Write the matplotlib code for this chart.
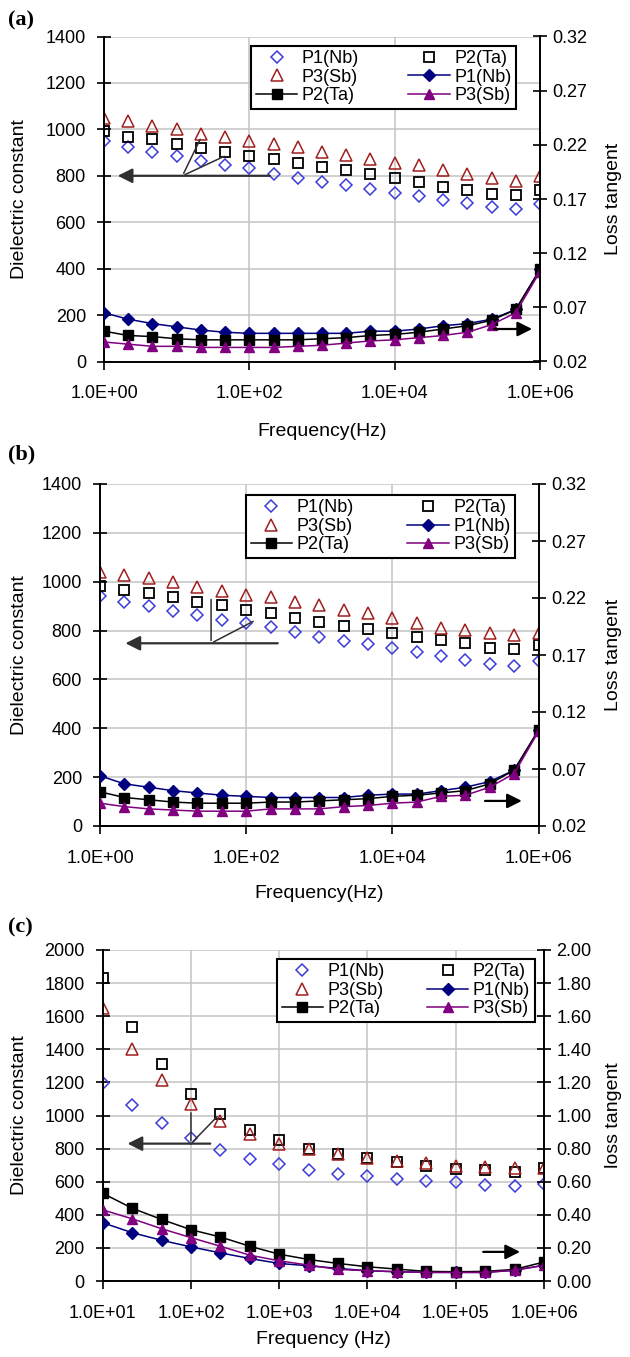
import numpy as np
import matplotlib
matplotlib.use('Agg')
import matplotlib.pyplot as plt
from matplotlib.ticker import FixedLocator, FuncFormatter, NullLocator

plt.rcParams['font.family'] = ['Liberation Sans', 'DejaVu Sans']

# ---- data -------------------------------------------------------------
freq_ab = 10 ** (np.arange(19) / 3.0)          # 1 Hz .. 1 MHz
freq_c = 10 ** (1 + np.arange(16) / 3.0)       # 10 Hz .. 1 MHz

eps_a_nb = [951, 925, 904, 885, 865, 848, 832, 808, 792, 775, 760, 745, 728, 711, 696, 681, 665, 658, 678]
eps_a_ta = [992, 968, 957, 935, 918, 901, 887, 871, 855, 839, 824, 809, 792, 772, 752, 738, 722, 718, 739]
eps_a_sb = [1047, 1035, 1015, 1001, 982, 968, 951, 937, 922, 902, 888, 871, 855, 847, 825, 808, 789, 778, 801]
tan_a_nb = [0.065, 0.059, 0.055, 0.052, 0.049, 0.047, 0.046, 0.046, 0.046, 0.046, 0.046, 0.048, 0.048, 0.050, 0.053, 0.055, 0.059, 0.068, 0.105]
tan_a_ta = [0.048, 0.044, 0.043, 0.041, 0.040, 0.040, 0.040, 0.040, 0.040, 0.041, 0.042, 0.044, 0.045, 0.047, 0.050, 0.053, 0.058, 0.068, 0.105]
tan_a_sb = [0.038, 0.036, 0.034, 0.034, 0.033, 0.033, 0.033, 0.033, 0.034, 0.035, 0.037, 0.039, 0.040, 0.042, 0.044, 0.047, 0.054, 0.065, 0.103]

eps_b_nb = [943, 919, 902, 882, 864, 843, 833, 813, 793, 775, 759, 745, 730, 712, 696, 679, 663, 656, 677]
eps_b_ta = [984, 966, 953, 936, 919, 905, 884, 871, 853, 837, 820, 805, 791, 775, 761, 748, 727, 723, 741]
eps_b_sb = [1039, 1028, 1014, 997, 980, 964, 946, 939, 919, 904, 884, 873, 853, 833, 809, 802, 789, 782, 792]
tan_b_nb = [0.064, 0.057, 0.054, 0.051, 0.049, 0.047, 0.046, 0.045, 0.045, 0.045, 0.045, 0.047, 0.048, 0.048, 0.051, 0.054, 0.059, 0.069, 0.104]
tan_b_ta = [0.050, 0.045, 0.043, 0.041, 0.040, 0.040, 0.040, 0.041, 0.041, 0.042, 0.043, 0.044, 0.046, 0.047, 0.049, 0.051, 0.057, 0.069, 0.104]
tan_b_sb = [0.040, 0.037, 0.035, 0.034, 0.033, 0.033, 0.033, 0.035, 0.035, 0.035, 0.037, 0.038, 0.040, 0.041, 0.046, 0.047, 0.054, 0.066, 0.103]

eps_c_nb = [1198, 1065, 954, 865, 794, 740, 706, 672, 646, 636, 616, 606, 596, 578, 575, 585]
eps_c_ta = [1828, 1535, 1313, 1131, 1010, 912, 852, 800, 766, 742, 722, 696, 676, 670, 660, 683]
eps_c_sb = [1650, 1404, 1212, 1067, 964, 886, 830, 796, 766, 746, 726, 710, 696, 690, 685, 685]
tan_c_nb = [0.352, 0.292, 0.246, 0.206, 0.170, 0.136, 0.106, 0.092, 0.076, 0.062, 0.056, 0.052, 0.052, 0.052, 0.065, 0.095]
tan_c_ta = [0.530, 0.440, 0.372, 0.310, 0.266, 0.210, 0.162, 0.130, 0.106, 0.086, 0.072, 0.058, 0.056, 0.058, 0.070, 0.115]
tan_c_sb = [0.430, 0.376, 0.316, 0.262, 0.210, 0.156, 0.122, 0.096, 0.070, 0.062, 0.056, 0.052, 0.052, 0.052, 0.065, 0.095]

labels = ['P1(Nb)', 'P3(Sb)', 'P2(Ta)', 'P2(Ta)', 'P1(Nb)', 'P3(Sb)']

# arrow annotations: (tail, head) in data coords, plus pointer lines
arrow_a_left = ((10 ** 2.32, 800), (10 ** 0.15, 800))
arrow_a_right = ((10 ** 5.33, 0.050), (10 ** 5.93, 0.050))
pointer_a = [((10 ** 1.08, 800), (10 ** 1.34, 968)), ((10 ** 1.08, 800), (10 ** 1.69, 889))]
arrow_b_left = ((10 ** 2.47, 748), (10 ** 0.31, 748))
arrow_b_right = ((10 ** 5.23, 0.042), (10 ** 5.81, 0.042))
pointer_b = [((10 ** 1.52, 748), (10 ** 1.52, 939)), ((10 ** 1.52, 748), (10 ** 2.13, 843))]
arrow_c_left = ((10 ** 2.25, 830), (10 ** 1.25, 830))
arrow_c_right = ((10 ** 5.28, 0.176), (10 ** 5.76, 0.176))
pointer_c = [((10 ** 2.0, 830), (10 ** 2.0, 1033)), ((10 ** 2.0, 830), (10 ** 2.32, 1006))]

C_NB_OPEN = '#3c3cd8'
C_SB_OPEN = '#a01e1e'
C_NB = '#000080'
C_SB = '#800080'

W, H = 630, 1357
fig = plt.figure(figsize=(W / 100, H / 100), dpi=100)


def add_ax(l, r, t, b):
    return fig.add_axes([l / W, 1 - b / H, (r - l) / W, (b - t) / H])


def panel(box, freq, eps, tan, ylim, yticks, tlim, tticks, tfmt, xticks,
          arrows, pointers, leg_anchor, xlabel, rlabel, tag, tagpos):
    l, r, t, b = box
    ax = add_ax(l, r, t, b)
    ax.set_xscale('log')
    ax.set_xlim(freq[0], freq[-1])
    ax.set_ylim(*ylim)
    ax.yaxis.set_major_locator(FixedLocator(yticks))
    ax.xaxis.set_major_locator(FixedLocator(xticks))
    ax.xaxis.set_minor_locator(NullLocator())
    ax.xaxis.set_major_formatter(FuncFormatter(lambda v, p: f'{v:.1E}'))
    ax.grid(True, color='#c4c4c4', lw=1.1)
    ax.set_axisbelow(True)
    for s in ['top', 'right']:
        ax.spines[s].set_visible(False)
    for s in ['left', 'bottom']:
        ax.spines[s].set_linewidth(1.4)
    ax.tick_params(axis='both', labelsize=13, width=1.2)
    ax.tick_params(axis='x', pad=11, length=6, direction='out')
    ax.tick_params(axis='y', pad=8, length=10, direction='inout')

    nb_o, = ax.plot(freq, eps[0], ls='none', marker='D', ms=6, mfc='none', mec=C_NB_OPEN, mew=1.1)
    ta_o, = ax.plot(freq, eps[1], ls='none', marker='s', ms=7, mfc='none', mec='black', mew=1.3)
    sb_o, = ax.plot(freq, eps[2], ls='none', marker='^', ms=8, mfc='none', mec=C_SB_OPEN, mew=1.1)

    ax2 = ax.twinx()
    ax2.set_ylim(*tlim)
    ax2.yaxis.set_major_locator(FixedLocator(tticks))
    ax2.yaxis.set_major_formatter(FuncFormatter(lambda v, p: tfmt.format(v)))
    for s in ['top', 'left', 'bottom']:
        ax2.spines[s].set_visible(False)
    ax2.spines['right'].set_linewidth(1.4)
    ax2.tick_params(axis='y', labelsize=13, width=1.2, length=10, direction='inout', pad=4)

    nb_l, = ax2.plot(freq, tan[0], color=C_NB, lw=1.1, marker='D', ms=6.5, mfc=C_NB, mec=C_NB)
    ta_l, = ax2.plot(freq, tan[1], color='black', lw=1.1, marker='s', ms=7, mfc='black', mec='black')
    sb_l, = ax2.plot(freq, tan[2], color=C_SB, lw=1.1, marker='^', ms=7.5, mfc=C_SB, mec=C_SB)

    # arrows and pointer lines
    (tail, head) = arrows[0]
    ax2.annotate('', xy=head, xytext=tail, xycoords=ax.transData, textcoords=ax.transData,
                 arrowprops=dict(arrowstyle='-|>', color='#303030', lw=1.6, mutation_scale=22))
    for p0, p1 in pointers:
        ax2.annotate('', xy=p1, xytext=p0, xycoords=ax.transData, textcoords=ax.transData,
                     arrowprops=dict(arrowstyle='-', color='#303030', lw=1.1))
    (tail, head) = arrows[1]
    ax2.annotate('', xy=head, xytext=tail,
                 arrowprops=dict(arrowstyle='-|>', color='black', lw=1.6, mutation_scale=22))

    leg = ax2.legend([nb_o, sb_o, ta_l, ta_o, nb_l, sb_l], labels, ncol=2,
                     loc='upper left', bbox_to_anchor=leg_anchor, mode='expand',
                     borderaxespad=0, fontsize=13, numpoints=1, handlelength=2.3,
                     handletextpad=0.25, columnspacing=0.4, labelspacing=0.08,
                     borderpad=0.25, fancybox=False, framealpha=1, edgecolor='black')
    leg.get_frame().set_linewidth(1.5)

    fig.text(20 / W, 1 - ((t + b) / 2) / H, 'Dielectric constant', rotation=90,
             ha='center', va='center', fontsize=14)
    fig.text(613 / W, 1 - ((t + b) / 2) / H, rlabel, rotation=90,
             ha='center', va='center', fontsize=14)
    fig.text(((l + r) / 2) / W, 1 - xlabel[1] / H, xlabel[0], ha='center', va='center', fontsize=14)
    fig.text(tagpos[0] / W, 1 - tagpos[1] / H, tag, ha='left', va='center', fontsize=16,
             fontweight='bold', family=['Liberation Serif', 'DejaVu Serif'])
    return ax, ax2


panel((104, 540, 36.5, 361.5), freq_ab,
      (eps_a_nb, eps_a_ta, eps_a_sb), (tan_a_nb, tan_a_ta, tan_a_sb),
      (0, 1400), range(0, 1401, 200), (0.02, 0.32), np.arange(0.02, 0.3201, 0.05), '{:.2f}',
      [1, 1e2, 1e4, 1e6], (arrow_a_left, arrow_a_right), pointer_a,
      (0.338, 0.972, 0.607, 0.0), ('Frequency(Hz)', 431), 'Loss tangent', '(a)', (8, 20))

panel((100, 538.5, 484, 826), freq_ab,
      (eps_b_nb, eps_b_ta, eps_b_sb), (tan_b_nb, tan_b_ta, tan_b_sb),
      (0, 1400), range(0, 1401, 200), (0.02, 0.32), np.arange(0.02, 0.3201, 0.05), '{:.2f}',
      [1, 1e2, 1e4, 1e6], (arrow_b_left, arrow_b_right), pointer_b,
      (0.333, 0.968, 0.614, 0.0), ('Frequency(Hz)', 894), 'Loss tangent', '(b)', (8, 454))

panel((102.7, 544, 950, 1281), freq_c,
      (eps_c_nb, eps_c_ta, eps_c_sb), (tan_c_nb, tan_c_ta, tan_c_sb),
      (0, 2000), range(0, 2001, 200), (0.0, 2.0), np.arange(0, 2.001, 0.2), '{:.2f}',
      [1e1, 1e2, 1e3, 1e4, 1e5, 1e6], (arrow_c_left, arrow_c_right), pointer_c,
      (0.395, 0.973, 0.584, 0.0), ('Frequency (Hz)', 1340), 'loss tangent', '(c)', (8, 927))

fig.savefig('out.png', dpi=100)
